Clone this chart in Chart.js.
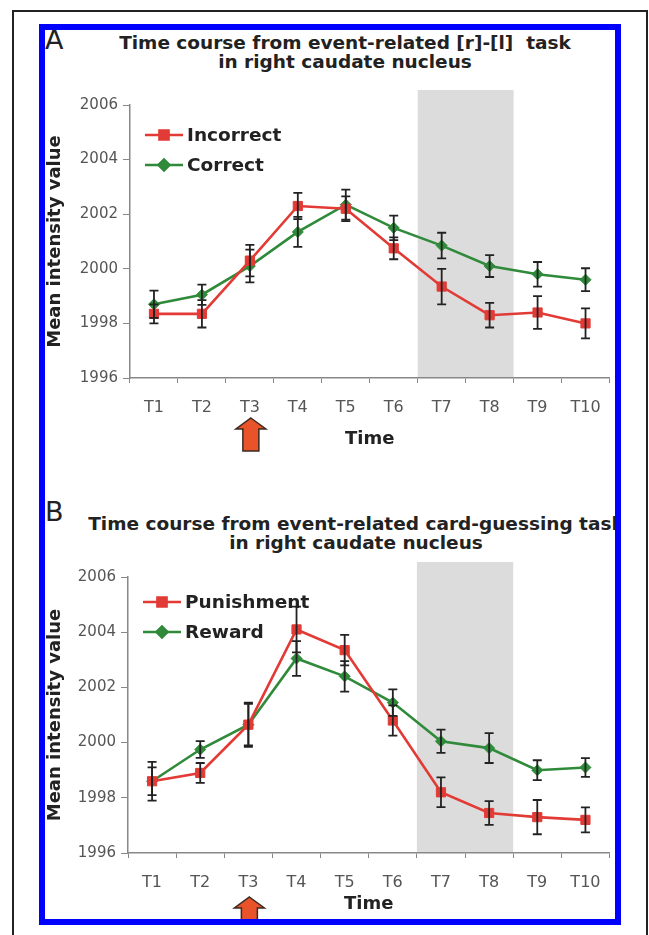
<!DOCTYPE html>
<html>
<head>
<meta charset="utf-8">
<script src="https://cdn.jsdelivr.net/npm/chart.js@4.4.1/dist/chart.umd.min.js"></script>
<style>
  html, body { margin: 0; padding: 0; background: #fff; }
  body { width: 649px; height: 935px; position: relative; overflow: hidden; font-family: "DejaVu Sans", sans-serif; }
  #outer { position: absolute; left: 12px; top: 10px; width: 632px; height: 940px; border: 2px solid #222; border-bottom: none; }
  #clip { position: absolute; left: 0; top: 0; width: 615px; height: 919px; overflow: hidden; }
  #frame { position: absolute; left: 39px; top: 24px; width: 570px; height: 889px; border: 6px solid #0000ff; z-index: 5; }
  .letter { position: absolute; font-size: 27px; line-height: 27px; color: #222; }
  .title { position: absolute; width: 700px; text-align: center; white-space: nowrap; font-weight: bold; font-size: 18.5px; line-height: 19px; color: #222; }
  canvas { position: absolute; }
</style>
</head>
<body>
<div id="outer"></div>
<div id="clip">
  <div class="letter" style="left:45px; top:26px;">A</div>
  <div class="title" style="left:-5px; top:33px;">Time course from event-related [r]-[l]&nbsp; task<br>in right caudate nucleus</div>
  <canvas id="chartA" width="572" height="380" style="left:45px; top:80px;"></canvas>

  <div class="letter" style="left:45px; top:498px;">B</div>
  <div class="title" style="left:6px; top:514px;">Time course from event-related card-guessing task<br>in right caudate nucleus</div>
  <canvas id="chartB" width="572" height="370" style="left:45px; top:555px;"></canvas>
</div>
<div id="frame"></div>

<script>
// time points on the x axis
const timeLabels = ["T1", "T2", "T3", "T4", "T5", "T6", "T7", "T8", "T9", "T10"];

// panel A: [r]-[l] task
const incorrectMeans = [1998.35, 1998.35, 2000.3, 2002.3, 2002.2, 2000.75, 1999.35, 1998.3, 1998.4, 1998.0];
const incorrectErr = [0.35, 0.5, 0.58, 0.48, 0.45, 0.4, 0.65, 0.45, 0.6, 0.55];
const correctMeans = [1998.7, 1999.05, 2000.1, 2001.35, 2002.35, 2001.5, 2000.85, 2000.1, 1999.8, 1999.6];
const correctErr = [0.5, 0.37, 0.6, 0.55, 0.55, 0.45, 0.47, 0.4, 0.45, 0.42];

// panel B: card-guessing task
const punishmentMeans = [1998.6, 1998.9, 2000.65, 2004.1, 2003.35, 2000.8, 1998.2, 1997.45, 1997.3, 1997.2];
const punishmentErr = [0.7, 0.36, 0.75, 0.83, 0.55, 0.55, 0.54, 0.43, 0.62, 0.45];
const rewardMeans = [1998.6, 1999.75, 2000.65, 2003.05, 2002.4, 2001.45, 2000.05, 1999.8, 1999.0, 1999.1];
const rewardErr = [0.5, 0.3, 0.8, 0.63, 0.55, 0.48, 0.42, 0.54, 0.36, 0.34];

// y axis range and tick step
const yMin = 1996;
const yMax = 2006;
const yStep = 2;

// shaded window (T7..T8) and stimulus onset (T3)
const shadeFrom = 6;
const shadeTo = 7;
const onsetIndex = 2;

const RED = "#e23b36";
const GREEN = "#2f8a3a";

Chart.defaults.font.family = "'DejaVu Sans', sans-serif";

// gray box behind the lines
const shadePlugin = {
  id: "shade",
  beforeDatasetsDraw(chart, args, opts) {
    const { ctx, chartArea, scales: { x } } = chart;
    const half = (x.getPixelForValue(1) - x.getPixelForValue(0)) / 2;
    const left = x.getPixelForValue(shadeFrom) - half;
    const right = x.getPixelForValue(shadeTo) + half;
    const top = chartArea.top - opts.above;
    ctx.save();
    ctx.fillStyle = "#dcdcdc";
    ctx.fillRect(left, top, right - left, chartArea.bottom - 1 - top);
    ctx.restore();
  }
};

// vertical error bars with caps
const errorBarPlugin = {
  id: "errorBars",
  afterDatasetsDraw(chart) {
    const { ctx, scales: { y } } = chart;
    ctx.save();
    ctx.strokeStyle = "#222";
    ctx.lineWidth = 1.8;
    chart.data.datasets.forEach((ds, i) => {
      chart.getDatasetMeta(i).data.forEach((pt, j) => {
        const top = y.getPixelForValue(ds.data[j] + ds.errors[j]);
        const bot = y.getPixelForValue(ds.data[j] - ds.errors[j]);
        ctx.beginPath();
        ctx.moveTo(pt.x, top); ctx.lineTo(pt.x, bot);
        ctx.moveTo(pt.x - 4.5, top); ctx.lineTo(pt.x + 4.5, top);
        ctx.moveTo(pt.x - 4.5, bot); ctx.lineTo(pt.x + 4.5, bot);
        ctx.stroke();
      });
    });
    ctx.restore();
  }
};

// legend drawn inside the plot, top left
const innerLegendPlugin = {
  id: "innerLegend",
  afterDraw(chart, args, opts) {
    const { ctx, chartArea } = chart;
    ctx.save();
    chart.data.datasets.forEach((ds, i) => {
      const y = chartArea.top + opts.top + i * 30;
      const x0 = chartArea.left + 15;
      const x1 = chartArea.left + 53;
      ctx.strokeStyle = ds.borderColor;
      ctx.lineWidth = 2.5;
      ctx.beginPath(); ctx.moveTo(x0, y); ctx.lineTo(x1, y); ctx.stroke();
      ctx.fillStyle = ds.backgroundColor;
      Chart.helpers.drawPoint(ctx, { pointStyle: ds.pointStyle, radius: ds.pointRadius, borderWidth: 1 }, (x0 + x1) / 2, y);
      ctx.fill();
      ctx.fillStyle = "#222";
      ctx.font = "bold 18.5px 'DejaVu Sans', sans-serif";
      ctx.textBaseline = "middle";
      ctx.fillText(ds.label, x1 + 4, y + 1);
    });
    ctx.restore();
  }
};

// orange arrow under the stimulus time point
const arrowPlugin = {
  id: "onsetArrow",
  afterDraw(chart, args, opts) {
    const { ctx, chartArea, scales: { x } } = chart;
    const cx = x.getPixelForValue(onsetIndex) + 1;
    const y0 = chartArea.bottom + opts.offset;
    ctx.save();
    ctx.beginPath();
    ctx.moveTo(cx, y0);
    ctx.lineTo(cx + 15, y0 + 11);
    ctx.lineTo(cx + 8, y0 + 11);
    ctx.lineTo(cx + 8, y0 + 33);
    ctx.lineTo(cx - 8, y0 + 33);
    ctx.lineTo(cx - 8, y0 + 11);
    ctx.lineTo(cx - 15, y0 + 11);
    ctx.closePath();
    ctx.fillStyle = "#e8532a";
    ctx.fill();
    ctx.strokeStyle = "#3a2a22";
    ctx.lineWidth = 1.5;
    ctx.stroke();
    ctx.restore();
  }
};

function series(label, data, errors, color, style, radius) {
  return {
    label: label,
    data: data,
    errors: errors,
    borderColor: color,
    backgroundColor: color,
    borderWidth: 2.6,
    pointStyle: style,
    pointRadius: radius,
    pointBorderWidth: 1,
    tension: 0
  };
}

function makePanel(id, datasets, p) {
  return new Chart(document.getElementById(id), {
    type: "line",
    data: { labels: timeLabels, datasets: datasets },
    plugins: [shadePlugin, errorBarPlugin, innerLegendPlugin, arrowPlugin],
    options: {
      responsive: false,
      animation: false,
      layout: { padding: { top: p.padTop, right: 2, left: 0, bottom: 10 } },
      plugins: {
        legend: { display: false },
        tooltip: { enabled: false },
        shade: { above: p.shadeAbove },
        innerLegend: { top: p.legendTop },
        onsetArrow: { offset: p.arrowOffset }
      },
      scales: {
        x: {
          offset: true,
          grid: { offset: true, drawOnChartArea: false, tickLength: 5, color: "#888" },
          border: { color: "#888", width: 1.5 },
          ticks: { color: "#555", font: { size: 16 }, padding: 15, maxRotation: 0, autoSkip: false },
          title: { display: true, text: "Time", color: "#222", font: { size: 18, weight: "bold" }, padding: 0 },
          afterFit(s) { s.height = p.xHeight; }
        },
        y: {
          min: yMin,
          max: yMax,
          ticks: { stepSize: yStep, color: "#555", font: { size: 15 }, padding: 5, callback: (v) => String(v) },
          grid: { drawOnChartArea: false, tickLength: 7, color: "#888" },
          border: { color: "#888", width: 1.5 },
          title: { display: true, text: "Mean intensity value", color: "#222", font: { size: 18, weight: "bold" }, padding: { top: 0, bottom: 0 } },
          afterFit(s) { s.width = p.yWidth; }
        }
      }
    }
  });
}

makePanel("chartA", [
  series("Incorrect", incorrectMeans, incorrectErr, RED, "rect", 6.5),
  series("Correct", correctMeans, correctErr, GREEN, "rectRot", 5.5)
], { padTop: 25, xHeight: 72, yWidth: 85, shadeAbove: 15, legendTop: 30, arrowOffset: 40 });

makePanel("chartB", [
  series("Punishment", punishmentMeans, punishmentErr, RED, "rect", 6.5),
  series("Reward", rewardMeans, rewardErr, GREEN, "rectRot", 5.5)
], { padTop: 22, xHeight: 62, yWidth: 83, shadeAbove: 15, legendTop: 25, arrowOffset: 44 });
</script>
</body>
</html>
